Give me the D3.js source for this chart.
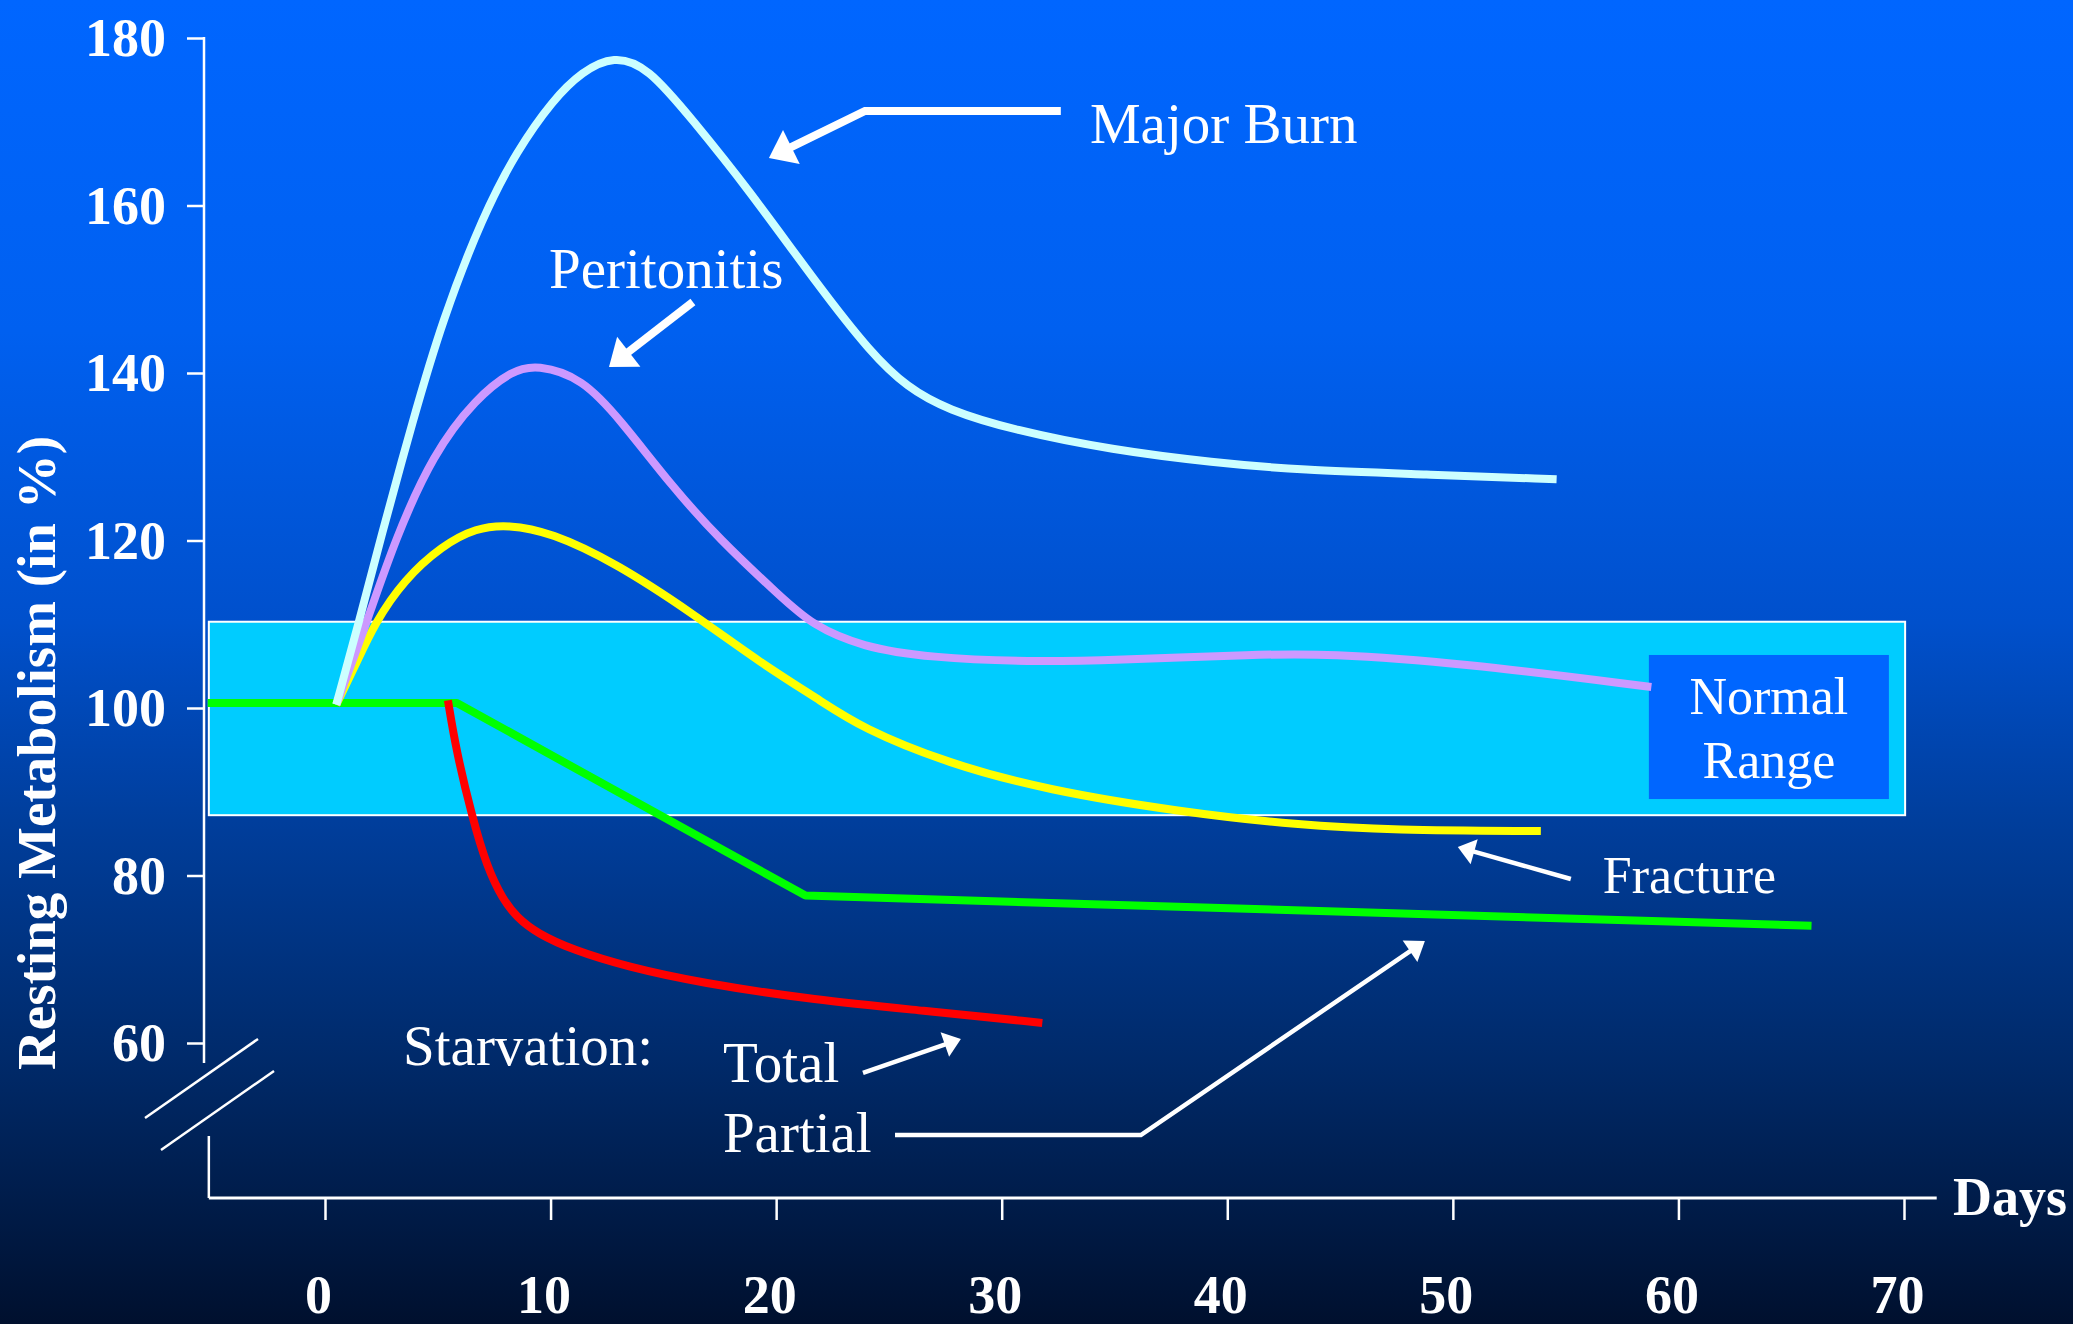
<!DOCTYPE html>
<html><head><meta charset="utf-8">
<script src="https://cdn.jsdelivr.net/npm/d3@7"></script>
<style>html,body{margin:0;padding:0;overflow:hidden;background:#00102e}</style>
</head><body>
<svg id="chart" width="2073" height="1324"></svg>
<script>
// ---- data (day, resting metabolism %) ----
const yTicks = [60, 80, 100, 120, 140, 160, 180];
const xTicks = [0, 10, 20, 30, 40, 50, 60, 70];
const normalRange = [87.2, 110.3];
const majorBurn = [[0.5,100.4],[1.5,110.2],[2.45,120.1],[3.9,134.4],[5.2,146.3],[7.0,158.8],[8.5,166.5],[10.1,172.6],[11.4,176.0],[12.8,177.9],[14.3,176.6],[16.3,170.2],[18.7,162.2],[21.9,150.3],[24.2,142.4],[25.8,138.3],[27.6,135.6],[30.5,133.2],[34.9,130.8],[39.4,129.3],[43.2,128.4],[48.8,127.9],[54.6,127.3]];
const peritonitis = [[0.5,100.4],[1.8,109.8],[3.1,120.1],[4.8,130.4],[6.7,137.0],[8.3,140.3],[9.4,141.0],[11.4,139.4],[13.1,134.4],[15.4,126.4],[17.5,120.1],[20.2,113.3],[21.6,109.9],[23.8,107.3],[26.8,106.0],[31.3,105.5],[34.9,105.7],[41.4,106.4],[44.4,106.5],[50.3,105.4],[58.8,102.5]];
const fracture = [[0.5,100.4],[1.4,105.4],[2.2,110.1],[3.5,115.3],[5.2,119.4],[6.7,121.5],[8.1,121.9],[10.0,121.0],[12.9,117.3],[16.3,111.3],[19.3,105.4],[21.9,101.0],[23.8,97.6],[27.6,93.4],[32.0,90.2],[37.9,87.6],[43.2,86.0],[47.3,85.4],[53.9,85.3]];
const totalStarvation = [[5.45,100.9],[5.81,95.0],[6.52,87.0],[7.18,81.0],[7.89,77.1],[8.51,75.0],[9.4,73.1],[11.0,71.1],[13.4,69.1],[16.6,67.2],[21.8,65.1],[26.4,63.9],[31.8,62.4]];
const partialStarvation = [[-5.2,100.6],[5.85,100.6],[21.3,77.6],[65.9,74.0]];

// annotation geometry in data units (day, %)
const labels = [
  {text:"Major Burn", d:33.91, v:167.46, size:57},
  {text:"Peritonitis", d:9.93, v:150.15, size:57},
  {text:"Starvation:", d:3.46, v:57.37, size:57},
  {text:"Total", d:17.64, v:55.34, size:57},
  {text:"Partial", d:17.64, v:46.99, size:57},
  {text:"Fracture", d:56.65, v:77.91, size:52}
];
const arrows = [
  {pts:[[32.62,171.28],[23.94,171.28],[19.68,165.67]], w:8, hl:25, hw:38},
  {pts:[[16.31,148.48],[12.59,140.72]], w:8, hl:25, hw:38},
  {pts:[[55.23,79.58],[50.22,83.40]], w:4.5, hl:17, hw:26},
  {pts:[[23.85,56.42],[28.19,60.48]], w:4.5, hl:17, hw:26},
  {pts:[[25.27,49.01],[36.17,49.01],[48.76,72.18]], w:4.5, hl:18, hw:26}
];
const normalBox = {d0:58.69, d1:69.33, v0:89.13, v1:106.33};

// ---- layout ----
const W = 2073, H = 1324;
const svg = d3.select("#chart");
const FONT = "'Liberation Serif','Times New Roman',Times,serif";
const x = d3.scaleLinear().domain([0,70]).range([325,1904]);
const y = d3.scaleLinear().domain([60,180]).range([1043,38]);

const defs = svg.append("defs");
const grad = defs.append("linearGradient").attr("id","bg").attr("x1",0).attr("y1",0).attr("x2",0).attr("y2",1);
[[0,"#0066ff"],[0.25,"#0060f0"],[0.47,"#0050cc"],[0.62,"#003e9c"],[0.8,"#002a6a"],[1,"#00102e"]]
  .forEach(([o,c])=>grad.append("stop").attr("offset",o).attr("stop-color",c));
svg.append("rect").attr("width",W).attr("height",H).attr("fill","url(#bg)");

// normal range band
svg.append("rect")
  .attr("x", x(-5.15)).attr("width", x(70.05)-x(-5.15))
  .attr("y", y(normalRange[1])).attr("height", y(normalRange[0])-y(normalRange[1]))
  .attr("fill","#00ccff").attr("stroke","#ffffff").attr("stroke-width",2);

// normal range label box
svg.append("rect")
  .attr("x", x(normalBox.d0)).attr("width", x(normalBox.d1)-x(normalBox.d0))
  .attr("y", y(normalBox.v1)).attr("height", y(normalBox.v0)-y(normalBox.v1))
  .attr("fill","#0066ff");
const nx = x((normalBox.d0+normalBox.d1)/2);
svg.append("text").attr("x",nx).attr("y",y(99.28)).attr("text-anchor","middle")
  .attr("font-family",FONT).attr("font-size",52).attr("fill","#fff").text("Normal");
svg.append("text").attr("x",nx).attr("y",y(91.64)).attr("text-anchor","middle")
  .attr("font-family",FONT).attr("font-size",52).attr("fill","#fff").text("Range");

// axes
const yAxis = d3.axisLeft(y).tickValues(yTicks).tickSize(17).tickPadding(21);
const gy = svg.append("g").attr("transform","translate(204,0)").call(yAxis);
gy.select(".domain").remove();
gy.selectAll(".tick line").attr("stroke","#fff").attr("stroke-width",2.5);
gy.selectAll(".tick text").attr("fill","#fff").attr("font-family",FONT)
  .attr("font-weight","bold").attr("font-size",54).attr("dy","0.33em");
svg.append("line").attr("x1",204).attr("x2",204).attr("y1",y(180)-1).attr("y2",1063)
  .attr("stroke","#fff").attr("stroke-width",2.5);

const xAxisY = 1198;
const xAxis = d3.axisBottom(x).tickValues(xTicks).tickSize(22);
const gx = svg.append("g").attr("transform",`translate(0,${xAxisY})`).call(xAxis);
gx.select(".domain").remove();
gx.selectAll(".tick line").attr("stroke","#fff").attr("stroke-width",2.5);
gx.selectAll(".tick text").attr("fill","#fff").attr("font-family",FONT)
  .attr("font-weight","bold").attr("font-size",54).attr("y",115).attr("dy",0).attr("dx",-7);
svg.append("line").attr("x1",x(-5.15)).attr("x2",x(71.45)).attr("y1",xAxisY).attr("y2",xAxisY)
  .attr("stroke","#fff").attr("stroke-width",3);
svg.append("line").attr("x1",x(-5.15)).attr("x2",x(-5.15)).attr("y1",1136).attr("y2",xAxisY)
  .attr("stroke","#fff").attr("stroke-width",2.5);

// axis break marks
[[145,1118,258,1039],[161,1150,274,1071]].forEach(([a,b,c,d])=>
  svg.append("line").attr("x1",a).attr("y1",b).attr("x2",c).attr("y2",d)
    .attr("stroke","#fff").attr("stroke-width",2.5));

// axis titles
svg.append("text").attr("transform","translate(55,753) rotate(-90)").attr("text-anchor","middle")
  .attr("font-family",FONT).attr("font-weight","bold").attr("font-size",55).attr("fill","#fff")
  .text("Resting Metabolism (in %)");
svg.append("text").attr("x",1953).attr("y",1215)
  .attr("font-family",FONT).attr("font-weight","bold").attr("font-size",54).attr("fill","#fff")
  .text("Days");

// curves
const smooth = d3.line().x(d=>x(d[0])).y(d=>y(d[1])).curve(d3.curveBasis);
const straight = d3.line().x(d=>x(d[0])).y(d=>y(d[1]));
const series = [
  {data:partialStarvation, color:"#00ff00", gen:straight},
  {data:totalStarvation, color:"#ff0000", gen:smooth},
  {data:fracture, color:"#ffff00", gen:smooth},
  {data:peritonitis, color:"#cc99ff", gen:smooth},
  {data:majorBurn, color:"#ccffff", gen:smooth}
];
series.forEach(s=>svg.append("path").attr("d",s.gen(s.data)).attr("fill","none")
  .attr("stroke",s.color).attr("stroke-width",8).attr("stroke-linejoin","round"));

// labels
labels.forEach(l=>svg.append("text").attr("x",x(l.d)).attr("y",y(l.v))
  .attr("font-family",FONT).attr("font-size",l.size).attr("fill","#fff").text(l.text));

// arrows
arrows.forEach(a=>{
  const p = a.pts.map(q=>[x(q[0]),y(q[1])]);
  const tip = p[p.length-1], prev = p[p.length-2];
  const dx = tip[0]-prev[0], dy = tip[1]-prev[1], L = Math.hypot(dx,dy);
  const ux = dx/L, uy = dy/L;
  const base = [tip[0]-ux*a.hl, tip[1]-uy*a.hl];
  const shaft = p.slice(0,-1).concat([[base[0]+ux*2, base[1]+uy*2]]);
  svg.append("path").attr("d",d3.line()(shaft)).attr("fill","none")
    .attr("stroke","#fff").attr("stroke-width",a.w).attr("stroke-linejoin","miter");
  const c1 = [base[0]-uy*a.hw/2, base[1]+ux*a.hw/2];
  const c2 = [base[0]+uy*a.hw/2, base[1]-ux*a.hw/2];
  svg.append("path").attr("d",d3.line()([tip,c1,c2])+"Z").attr("fill","#fff");
});
</script>
</body></html>
